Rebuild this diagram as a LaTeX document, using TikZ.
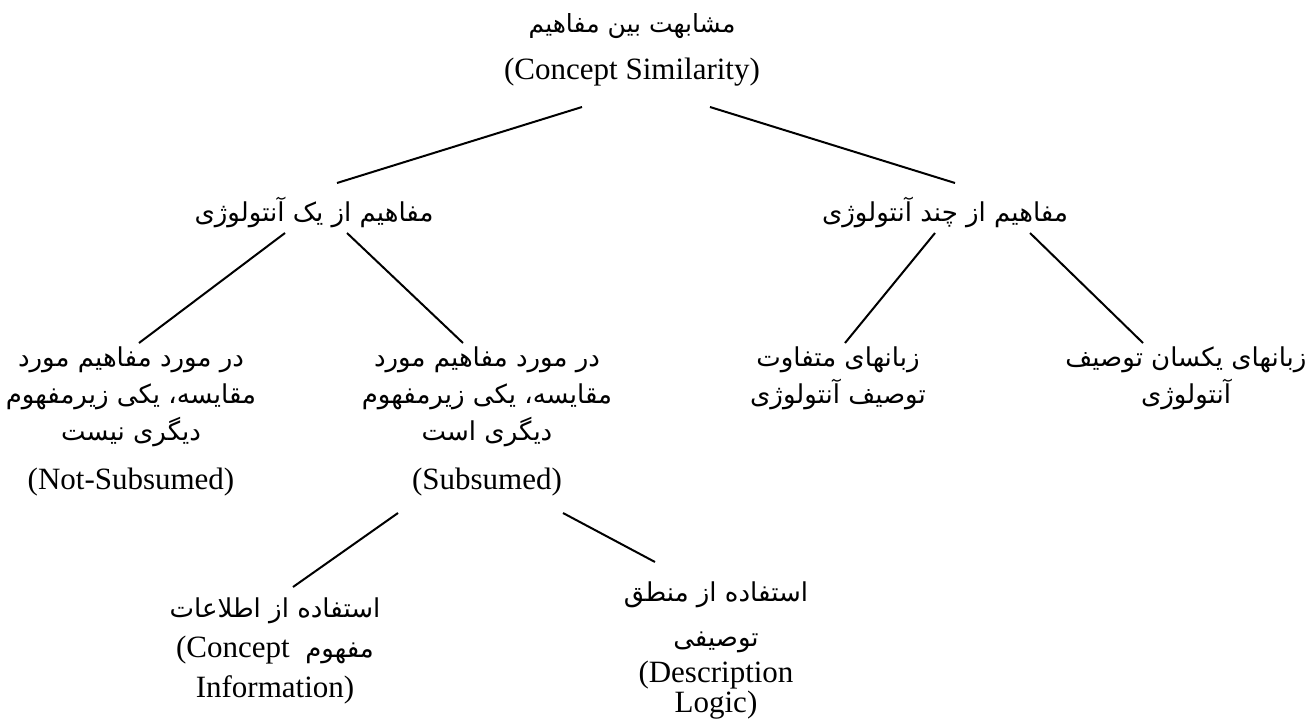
\documentclass[tikz,border=0pt]{standalone}
\usepackage{fontspec}
\setmainfont{Liberation Serif}
\newfontfamily\fafont[Script=Arabic]{DejaVu Sans}
\TeXXeTstate=1
\usetikzlibrary{calc}
\tikzset{
  fa/.style={font=\fafont\fontsize{26}{37}\selectfont, align=center, inner sep=0pt},
  en/.style={font=\fontsize{31}{35}\selectfont, align=center, inner sep=0pt},
  link/.style={line width=2pt},
}
\begin{document}
\begin{tikzpicture}[x=1pt,y=-1pt]
\useasboundingbox (0,0) rectangle (1310,720);
% root
\node[fa, font=\fafont\fontsize{25}{37}\selectfont] (root) at (632,26) {\beginR مشابهت بین مفاهیم\endR};
\node[en] (rootEn) at (632,72) {(Concept Similarity)};
% level 1
\node[fa] (one) at (314,212) {\beginR مفاهیم از یک آنتولوژی\endR};
\node[fa] (many) at (945,212) {\beginR مفاهیم از چند آنتولوژی\endR};
% level 2
\node[fa] (notsub) at (131,397) {\beginR در مورد مفاهیم مورد\endR\\ \beginR مقایسه، یکی زیرمفهوم\endR\\ \beginR دیگری نیست\endR};
\node[en] (notsubEn) at (131,482) {(Not-Subsumed)};
\node[fa] (sub) at (487,397) {\beginR در مورد مفاهیم مورد\endR\\ \beginR مقایسه، یکی زیرمفهوم\endR\\ \beginR دیگری است\endR};
\node[en] (subEn) at (487,482) {(Subsumed)};
\node[fa] (diff) at (838,378) {\beginR زبانهای متفاوت\endR\\ \beginR توصیف آنتولوژی\endR};
\node[fa] (same) at (1186,378) {\beginR زبانهای یکسان توصیف\endR\\ \beginR آنتولوژی\endR};
% level 3
\node[en, font=\fontsize{31}{40}\selectfont] (leaf1) at (275,651) {{\fafont\fontsize{26}{40}\selectfont\beginR استفاده از اطلاعات\endR}\\ (Concept~~{\fafont\fontsize{26}{40}\selectfont\beginR مفهوم\endR}\\ Information)};
\node[fa, font=\fafont\fontsize{26}{45}\selectfont] (leaf2) at (716,617) {\beginR استفاده از منطق\endR\\ \beginR توصیفی\endR};
\node[en, font=\fontsize{31}{30}\selectfont] (leaf2En) at (716,690) {(Description\\ Logic)};
% connectors
\draw[link] ($(rootEn)+(-50,35)$) -- ($(one)+(23,-29)$);
\draw[link] ($(rootEn)+(78,35)$) -- ($(many)+(10,-29)$);
\draw[link] ($(one)+(-29,21)$) -- ($(notsub)+(8,-54)$);
\draw[link] ($(one)+(33,21)$) -- ($(sub)+(-24,-54)$);
\draw[link] ($(many)+(-10,21)$) -- ($(diff)+(7,-35)$);
\draw[link] ($(many)+(85,21)$) -- ($(same)+(-43,-35)$);
\draw[link] ($(subEn)+(-89,31)$) -- ($(leaf1)+(18,-64)$);
\draw[link] ($(subEn)+(76,31)$) -- ($(leaf2)+(-61,-55)$);
\end{tikzpicture}
\end{document}
